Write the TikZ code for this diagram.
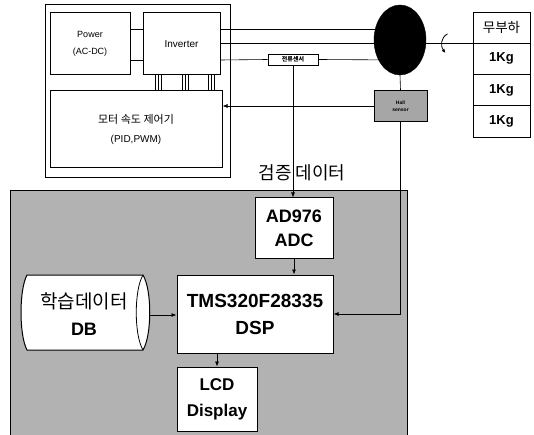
\documentclass[tikz,border=0pt]{standalone}
\usepackage{fontspec}
\setmainfont{Liberation Sans}
\newfontfamily\kr{Noto Sans CJK KR}
\usetikzlibrary{arrows.meta,shapes.geometric}
\begin{document}
\begin{tikzpicture}[x=1pt,y=-1pt,
  box/.style={draw,line width=1pt,fill=white,inner sep=0pt,align=center},
  ln/.style={line width=0.6pt},
  arr/.style={line width=0.7pt,-{Latex[length=5pt,width=4pt]}},
  bigtxt/.style={font=\fontsize{18}{24}\selectfont\bfseries},
  smalltxt/.style={font=\fontsize{10}{14}\selectfont},
  tabrow/.style={draw,line width=0.8pt,minimum width=57pt,minimum height=31.25pt,inner sep=0pt}]
\useasboundingbox (0,0) rectangle (534,435);

% ---------- upper section ----------
\node[draw,line width=0.6pt,minimum width=185pt,minimum height=173pt,inner sep=0pt] (outer) at (137.5,90.5) {};
\node[box,minimum width=80pt,minimum height=62pt,font=\fontsize{9}{17}\selectfont] (pow) at (90,44) {Power\\(AC-DC)};
\node[box,minimum width=77pt,minimum height=62pt,smalltxt] (inv) at (181.5,44) {Inverter};
\node[box,minimum width=172pt,minimum height=77pt,font=\fontsize{10}{19}\selectfont] (ctrl) at (136,129.5) {{\kr\fontsize{11}{11}\selectfont 모터 속도 제어기}\\(PID,PWM)};

\draw[ln] (pow.east |- 0,29) -- (inv.west |- 0,29);
\draw[ln] (pow.east |- 0,60) -- (inv.west |- 0,60);
\foreach \x in {155,158,161,182,185,188,208,211,214}
  \draw[line width=0.6pt] (inv.south -| \x,0) -- (ctrl.north -| \x,0);

% motor
\coordinate (mc) at (400,40);
\draw[ln] (inv.east |- 0,29) -- (mc |- 0,29);
\draw[ln] (inv.east |- 0,43) -- (mc |- 0,43);
\node[box,line width=0.6pt,minimum width=50pt,minimum height=11pt,font=\kr\fontsize{6}{6}\selectfont\bfseries] (cs) at (293,59.5) {전류센서};
\draw[ln] (inv.east |- 0,60) -- (cs.west);
\draw[ln] (cs.east) -- (mc |- 0,60);

% weight table
\node[tabrow,font=\kr\fontsize{13.5}{13.5}\selectfont] (t1) at (501.5,27.6) {무부하};
\node[tabrow,font=\fontsize{13}{13}\selectfont\bfseries] (t2) at (501.5,58.9) {1Kg};
\node[tabrow,font=\fontsize{13}{13}\selectfont\bfseries] (t3) at (501.5,90.1) {1Kg};
\node[tabrow,font=\fontsize{13}{13}\selectfont\bfseries] (t4) at (501.5,121.4) {1Kg};
\draw[ln] (mc |- t1.south west) -- (t1.south west);

\node[ellipse,fill=black,draw=black,minimum width=52pt,minimum height=70pt,inner sep=0pt] (motor) at (mc) {};

% rotation mark
\coordinate (rotA) at (447.5,34);
\coordinate (rotB) at (445.5,53);
\draw[line width=0.8pt,-{Latex[length=4pt,width=3.5pt]}] (rotA) .. controls (441,37) and (440,46) .. (rotB);

% hall sensor
\node[box,fill=black!35,line width=0.8pt,minimum width=53pt,minimum height=31pt,font=\fontsize{5}{7}\selectfont\bfseries] (hall) at (400.5,106) {Hall\\sensor};
\draw[ln] (motor.south) -- (hall.north);
\draw[arr] (hall.west) -- (hall.west -| ctrl.east);

% ---------- lower section ----------
\node[draw,line width=0.8pt,fill=black!30,minimum width=397pt,minimum height=250pt,inner sep=0pt] (board) at (208.5,315) {};

\node[font=\kr\fontsize{18}{18}\selectfont,fill=white,inner sep=0pt] (verify) at (302,173) {검증 데이터};

\node[box,minimum width=78pt,minimum height=60pt,bigtxt] (adc) at (294,228) {AD976\\ADC};
\node[box,minimum width=156pt,minimum height=78pt,bigtxt,font=\fontsize{19}{27}\selectfont\bfseries] (dsp) at (255,314) {TMS320F28335\\DSP};
\node[box,minimum width=80pt,minimum height=64pt,bigtxt,font=\fontsize{17}{26}\selectfont\bfseries] (lcd) at (217,399) {LCD\\Display};

% DB cylinder
\draw[line width=1pt,fill=white] (27,275) -- (143,275)
  .. controls (152,290) and (152,335) .. (143,350) -- (27,350)
  .. controls (19,335) and (19,290) .. (27,275) -- cycle;
\draw[line width=0.8pt] (143,275) .. controls (134,290) and (134,335) .. (143,350);
\node[align=center,inner sep=0pt,font=\fontsize{18}{27}\selectfont\bfseries] (db) at (84,314.5) {{\kr\mdseries\fontsize{19}{19}\selectfont 학습데이터}\\DB};
\coordinate (dbr) at (150,315);

% connectors
\draw[arr] (cs.south) -- (cs.south |- adc.north);
\draw[arr] (adc.south) -- (adc.south |- dsp.north);
\draw[arr] (dbr) -- (dbr -| dsp.west);
\draw[arr] (hall.south) |- (dsp.east);
\draw[arr] (dsp.south -| lcd.north) -- (lcd.north);
\end{tikzpicture}
\end{document}
